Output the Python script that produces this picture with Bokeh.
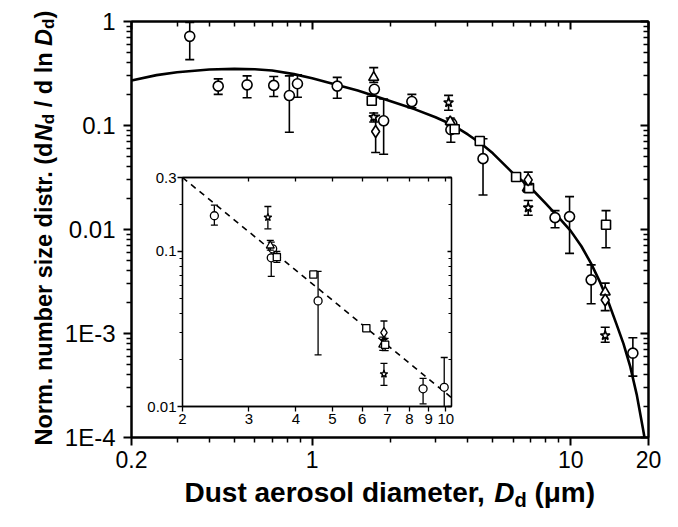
from math import pi
from bokeh.plotting import figure
from bokeh.models import FixedTicker, LogAxis, Label, Range1d
from bokeh.layouts import column
from bokeh.embed import file_html
from bokeh.resources import INLINE

# ---------------- data ----------------
curve_x = [0.2, 0.25, 0.3, 0.4, 0.5, 0.6, 0.7, 0.85, 1.0, 1.2, 1.5, 2.0, 2.5, 3.0, 3.5,
           4.0, 4.5, 5.0, 6.0, 7.0, 8.0, 9.0, 10.0, 11.0, 12.0, 13.0, 14.0, 15.0, 16.0,
           17.0, 18.0, 19.0, 19.3, 19.6]
curve_y = [0.271, 0.305, 0.325, 0.345, 0.35, 0.347, 0.338, 0.312, 0.285, 0.252, 0.217,
           0.172, 0.143, 0.12, 0.101, 0.082, 0.067, 0.054, 0.0345, 0.0252, 0.0178, 0.0130,
           0.0097, 0.0069, 0.0047, 0.0031, 0.0020, 0.00125, 0.0008, 0.00048, 0.00026,
           0.000125, 0.0001, 0.00007]

circle_x = [0.336, 0.433, 0.56, 0.71, 0.816, 0.877, 1.25, 1.74, 1.89, 2.43, 3.47, 3.44,
            4.58, 8.7, 9.9, 12.0, 17.4]
circle_y = [0.72, 0.239, 0.246, 0.243, 0.194, 0.252, 0.239, 0.223, 0.111, 0.17, 0.104,
            0.091, 0.048, 0.013, 0.0133, 0.00328, 0.000647]
circle_lo = [0.43, 0.199, 0.185, 0.19, 0.086, 0.187, 0.183, None, 0.053, 0.148, None,
             0.069, 0.0215, 0.0104, 0.0059, 0.00193, 0.000389]
circle_hi = [0.98, 0.281, 0.30, 0.296, 0.30, 0.307, 0.29, None, 0.18, 0.199, None,
             0.115, 0.0745, 0.0152, 0.0207, 0.00457, 0.00091]

triangle_x = [1.73, 3.42, 6.8, 13.6]
triangle_y = [0.29, 0.109, 0.025, 0.0025]
triangle_lo = [0.26, 0.102, 0.023, 0.00166]
triangle_hi = [0.36, 0.118, 0.028, 0.00305]

square_x = [1.70, 3.56, 4.45, 6.15, 6.9, 13.7]
square_y = [0.173, 0.092, 0.071, 0.032, 0.025, 0.0111]
square_lo = [None, 0.085, None, None, 0.0229, 0.00667]
square_hi = [None, 0.1, None, None, 0.0275, 0.0152]

diamond_x = [1.76, 6.85, 13.6]
diamond_y = [0.0875, 0.030, 0.0021]
diamond_lo = [0.055, 0.027, None]
diamond_hi = [0.125, 0.0356, None]

star_x = [1.73, 3.37, 6.85, 13.6]
star_y = [0.12, 0.166, 0.0162, 0.000957]
star_lo = [0.108, 0.14, 0.0137, 0.000824]
star_hi = [0.132, 0.195, 0.019, 0.00115]

dash_x = [2.0, 10.35]
dash_y = [0.30, 0.0114]

main_xticks = [0.2, 1, 10, 20]
main_xticklabels = ["0.2", "1", "10", "20"]
main_yticks = [0.0001, 0.001, 0.01, 0.1, 1]
main_yticklabels = ["1E-4", "1E-3", "0.01", "0.1", "1"]
inset_xticks = [2, 3, 4, 5, 6, 7, 8, 9, 10]
inset_xticklabels = ["2", "3", "4", "5", "6", "7", "8", "9", "10"]
inset_yticks = [0.01, 0.1, 0.3]
inset_yticklabels = ["0.01", "0.1", "0.3"]

main_xminor = [k * 0.1 for k in range(3, 10)] + list(range(2, 10))
main_yminor = [k * 10.0 ** e for e in (-4, -3, -2, -1) for k in range(2, 10)]
inset_yminor = [k * 0.01 for k in range(2, 10)] + [0.2]

FONT = "Liberation Sans"


def style_axis(ax, size, out, inn, mout, minn, standoff, labels=True, lw=2, mlw=1.5):
    ax.axis_line_color = "black"
    ax.axis_line_width = lw
    ax.major_tick_line_color = "black"
    ax.minor_tick_line_color = "black"
    ax.major_tick_line_width = lw
    ax.minor_tick_line_width = mlw
    ax.major_tick_out = out
    ax.major_tick_in = inn
    ax.minor_tick_out = mout
    ax.minor_tick_in = minn
    ax.major_label_text_font = FONT
    ax.major_label_standoff = standoff
    ax.major_label_text_font_size = size
    ax.major_label_text_color = "black" if labels else None


def draw_series(fig, xs, ys, lo, hi, marker, size, cap, lw):
    ex = [xs[i] for i in range(len(xs)) if lo[i] is not None]
    el = [lo[i] for i in range(len(xs)) if lo[i] is not None]
    eh = [hi[i] for i in range(len(xs)) if lo[i] is not None]
    fig.segment(x0=ex, y0=el, x1=ex, y1=eh, line_color="black", line_width=lw)
    fig.scatter(x=ex, y=el, marker="dash", size=cap, line_color="black", line_width=lw)
    fig.scatter(x=ex, y=eh, marker="dash", size=cap, line_color="black", line_width=lw)
    fig.scatter(x=xs, y=ys, marker=marker, size=size, fill_color="white",
                line_color="black", line_width=lw)


series = [
    (circle_x, circle_y, circle_lo, circle_hi, "circle", 1.0),
    (triangle_x, triangle_y, triangle_lo, triangle_hi, "triangle", 1.0),
    (square_x, square_y, square_lo, square_hi, "square", 0.9),
    (diamond_x, diamond_y, diamond_lo, diamond_hi, "diamond", 1.2),
    (star_x, star_y, star_lo, star_hi, "star", 1.0),
]

# ---------------- main figure ----------------
p = figure(width=678, height=527, x_axis_type="log", y_axis_type="log",
           x_range=Range1d(0.2, 20), y_range=Range1d(0.0001, 1),
           output_backend="svg", toolbar_location=None,
           min_border_left=131, min_border_right=30, min_border_top=21, min_border_bottom=90)
p.grid.visible = False
p.outline_line_color = "black"
p.outline_line_width = 2
p.background_fill_color = "white"
p.border_fill_color = "white"

p.xaxis.ticker = FixedTicker(ticks=main_xticks, minor_ticks=main_xminor)
p.xaxis.major_label_overrides = dict(zip(main_xticks, main_xticklabels))
p.yaxis.ticker = FixedTicker(ticks=main_yticks, minor_ticks=main_yminor)
p.yaxis.major_label_overrides = dict(zip(main_yticks, main_yticklabels))
style_axis(p.xaxis[0], "23px", 8, 0, 5, 0, 5)
style_axis(p.yaxis[0], "24px", 8, 0, 5, 0, 8)

top_ax = LogAxis(ticker=FixedTicker(ticks=main_xticks, minor_ticks=main_xminor))
style_axis(top_ax, "10px", 0, 8, 0, 5, 0, labels=False)
p.add_layout(top_ax, "above")
right_ax = LogAxis(ticker=FixedTicker(ticks=main_yticks, minor_ticks=main_yminor))
style_axis(right_ax, "10px", 0, 8, 0, 5, 0, labels=False)
p.add_layout(right_ax, "right")

p.line(curve_x, curve_y, line_color="black", line_width=2.6)
for xs, ys, lo, hi, mk, f in series:
    draw_series(p, xs, ys, lo, hi, mk, 10 * f, 9, 1.6)

# ---------------- inset figure ----------------
# borders match the main plot's (the column aligns frames horizontally)
q = figure(width=430, height=269, x_axis_type="log", y_axis_type="log",
           x_range=Range1d(2, 10.35), y_range=Range1d(0.01, 0.3),
           output_backend="svg", toolbar_location=None,
           min_border_left=131, min_border_right=30, min_border_top=12, min_border_bottom=28)
q.grid.visible = False
q.outline_line_color = "black"
q.outline_line_width = 1.3
q.background_fill_color = "white"
q.border_fill_color = None

q.xaxis.ticker = FixedTicker(ticks=inset_xticks)
q.xaxis.major_label_overrides = dict(zip(inset_xticks, inset_xticklabels))
q.yaxis.ticker = FixedTicker(ticks=inset_yticks, minor_ticks=inset_yminor)
q.yaxis.major_label_overrides = dict(zip(inset_yticks, inset_yticklabels))
style_axis(q.xaxis[0], "15px", 5, 0, 0, 0, 2, lw=1.3, mlw=1)
style_axis(q.yaxis[0], "15px", 5, 0, 3, 0, 1, lw=1.3, mlw=1)
qt = LogAxis(ticker=FixedTicker(ticks=inset_xticks))
style_axis(qt, "8px", 0, 4, 0, 0, 0, labels=False, lw=1.3, mlw=1)
q.add_layout(qt, "above")
qr = LogAxis(ticker=FixedTicker(ticks=inset_yticks, minor_ticks=inset_yminor))
style_axis(qr, "8px", 0, 4, 0, 3, 0, labels=False, lw=1.3, mlw=1)
q.add_layout(qr, "right")

q.line(dash_x, dash_y, line_color="black", line_width=1.6, line_dash="6 5")
for xs, ys, lo, hi, mk, f in series:
    draw_series(q, xs, ys, lo, hi, mk, 8 * f, 7, 1.3)

q.styles = {"position": "absolute", "left": "51px", "top": "165px"}


# ---------------- transparent overlays carrying the axis titles ----------------
def overlay(left):
    o = figure(width=678, height=527, x_range=Range1d(0, 1), y_range=Range1d(0, 1),
               x_axis_location=None, y_axis_location=None,
               output_backend="svg", toolbar_location=None,
               min_border_left=131, min_border_right=30, min_border_top=0, min_border_bottom=0)
    o.grid.visible = False
    o.outline_line_color = None
    o.background_fill_color = None
    o.border_fill_color = None
    o.styles = {"position": "absolute", "left": "%dpx" % left, "top": "0px"}
    return o


rx = overlay(0)      # frame spans page x 131..648, y 0..527
ry = overlay(-120)   # frame spans page x 11..528, y 0..527


def lab(fig, ox, px, py, text, size, style, angle=0.0):
    fig.add_layout(Label(x=px - ox, y=527 - py, x_units="screen", y_units="screen",
                         text=text, text_font=FONT, text_font_size=size,
                         text_font_style=style, text_color="black",
                         text_baseline="alphabetic", text_align="left", angle=angle))


# x-axis title (page coordinates of the baseline start of each piece)
lab(rx, 131, 184, 492, "Dust aerosol diameter,", "28px", "bold")
lab(rx, 131, 493.7, 492, "D", "28px", "bold italic")
lab(rx, 131, 513.9, 499, "d", "20px", "bold")
lab(rx, 131, 533.9, 492, "(\u03bcm)", "28px", "bold")

# y-axis title (rotated, reading upwards)
A = pi / 2
lab(ry, 11, 43, 445, "Norm. number size distr. (d", "23.5px", "bold", A)
lab(ry, 11, 43, 140.7, "N", "23.5px", "bold italic", A)
lab(ry, 11, 48, 123.7, "d", "17px", "bold", A)
lab(ry, 11, 43, 106.8, "/ d ln", "23.5px", "bold", A)
lab(ry, 11, 43, 45.4, "D", "23.5px", "bold italic", A)
lab(ry, 11, 48, 28.4, "d", "17px", "bold", A)
lab(ry, 11, 43, 18.0, ")", "23.5px", "bold", A)

layout = column(p, q, rx, ry, width=678, height=527)
open("out.html", "w").write(file_html(layout, INLINE))
